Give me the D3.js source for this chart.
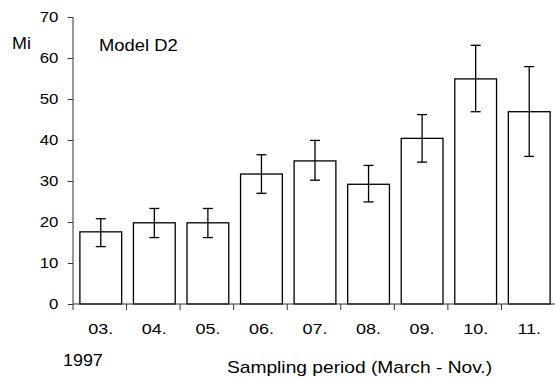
<!DOCTYPE html>
<html>
<head>
<meta charset="utf-8">
<script src="https://cdn.jsdelivr.net/npm/d3@7"></script>
<style>
  body { margin: 0; background: #fff; }
  svg text { font-family: "Liberation Sans", Arial, sans-serif; fill: #000; }
</style>
</head>
<body>
<svg id="chart" width="555" height="378"></svg>
<script>
var months = ["03.", "04.", "05.", "06.", "07.", "08.", "09.", "10.", "11."];
var means = [17.6, 19.8, 19.8, 31.7, 34.9, 29.2, 40.4, 54.9, 46.9];
var upper = [20.8, 23.3, 23.3, 36.4, 39.9, 33.8, 46.2, 63.1, 57.9];
var lower = [14.0, 16.2, 16.2, 27.0, 30.2, 24.9, 34.6, 46.9, 36.0];
var yTicks = [0, 10, 20, 30, 40, 50, 60, 70];

var data = months.map(function (m, i) {
    return { name: m, mean: means[i], hi: upper[i], lo: lower[i] };
});

var svg = d3.select("#chart");
var plotL = 73, plotR = 555, plotT = 17, plotB = 304;

var x = d3.scaleBand().domain(months).range([plotL, plotR]).padding(0);
var y = d3.scaleLinear().domain([0, 70]).range([plotB, plotT]);
var barW = x.bandwidth() * 0.78;
var off = (x.bandwidth() - barW) / 2 + 1;

var g = svg.append("g");

// bars
g.selectAll("rect.bar")
    .data(data)
    .enter().append("rect")
    .attr("class", "bar")
    .attr("x", function (d) { return x(d.name) + off; })
    .attr("y", function (d) { return y(d.mean); })
    .attr("width", barW)
    .attr("height", function (d) { return y(0) - y(d.mean); })
    .attr("fill", "#fff")
    .attr("stroke", "#000")
    .attr("stroke-width", 1.3);

// error bars
var eb = g.selectAll("g.err")
    .data(data)
    .enter().append("g")
    .attr("class", "err")
    .attr("transform", function (d) { return "translate(" + (x(d.name) + off + barW / 2) + ",0)"; });
eb.append("line")
    .attr("y1", function (d) { return y(d.hi); })
    .attr("y2", function (d) { return y(d.lo); })
    .attr("stroke", "#000").attr("stroke-width", 1.3);
eb.append("line")
    .attr("x1", -5).attr("x2", 5)
    .attr("y1", function (d) { return y(d.hi); })
    .attr("y2", function (d) { return y(d.hi); })
    .attr("stroke", "#000").attr("stroke-width", 1.3);
eb.append("line")
    .attr("x1", -5).attr("x2", 5)
    .attr("y1", function (d) { return y(d.lo); })
    .attr("y2", function (d) { return y(d.lo); })
    .attr("stroke", "#000").attr("stroke-width", 1.3);

// y axis
var yAxis = g.append("g")
    .attr("transform", "translate(" + plotL + ",0)")
    .call(d3.axisLeft(y).tickValues(yTicks).tickSize(5).tickFormat(d3.format("d")));
yAxis.selectAll("text")
    .attr("x", -13)
    .attr("transform", "scale(1.12,1)")
    .style("font-size", "15px");
yAxis.select(".domain").attr("d", "M0," + plotT + "V" + plotB).attr("stroke", "#333");
yAxis.selectAll(".tick line").attr("stroke", "#333");

// x axis: line + ticks at band boundaries
var xAxis = g.append("g");
xAxis.append("line")
    .attr("x1", plotL).attr("x2", plotR)
    .attr("y1", plotB).attr("y2", plotB)
    .attr("stroke", "#333");
var bounds = months.map(function (m) { return x(m); });
xAxis.selectAll("line.tk")
    .data(bounds)
    .enter().append("line")
    .attr("class", "tk")
    .attr("x1", function (d) { return d; })
    .attr("x2", function (d) { return d; })
    .attr("y1", plotB).attr("y2", plotB + 6)
    .attr("stroke", "#333");
xAxis.selectAll("text")
    .data(months)
    .enter().append("text")
    .attr("transform", function (d) {
        return "translate(" + (x(d) + x.bandwidth() / 2 + 1) + ",334) scale(1.2,1)";
    })
    .attr("text-anchor", "middle")
    .style("font-size", "15px")
    .text(function (d) { return d; });

// labels
function label(txt, px, py, sx) {
    svg.append("text")
        .attr("transform", "translate(" + px + "," + py + ") scale(" + sx + ",1)")
        .style("font-size", "16px")
        .text(txt);
}
label("Mi", 12, 49, 1.12);
label("Model D2", 99, 51, 1.15);
label("1997", 63, 366, 1.12);
label("Sampling period (March - Nov.)", 227, 373, 1.2);
</script>
</body>
</html>
